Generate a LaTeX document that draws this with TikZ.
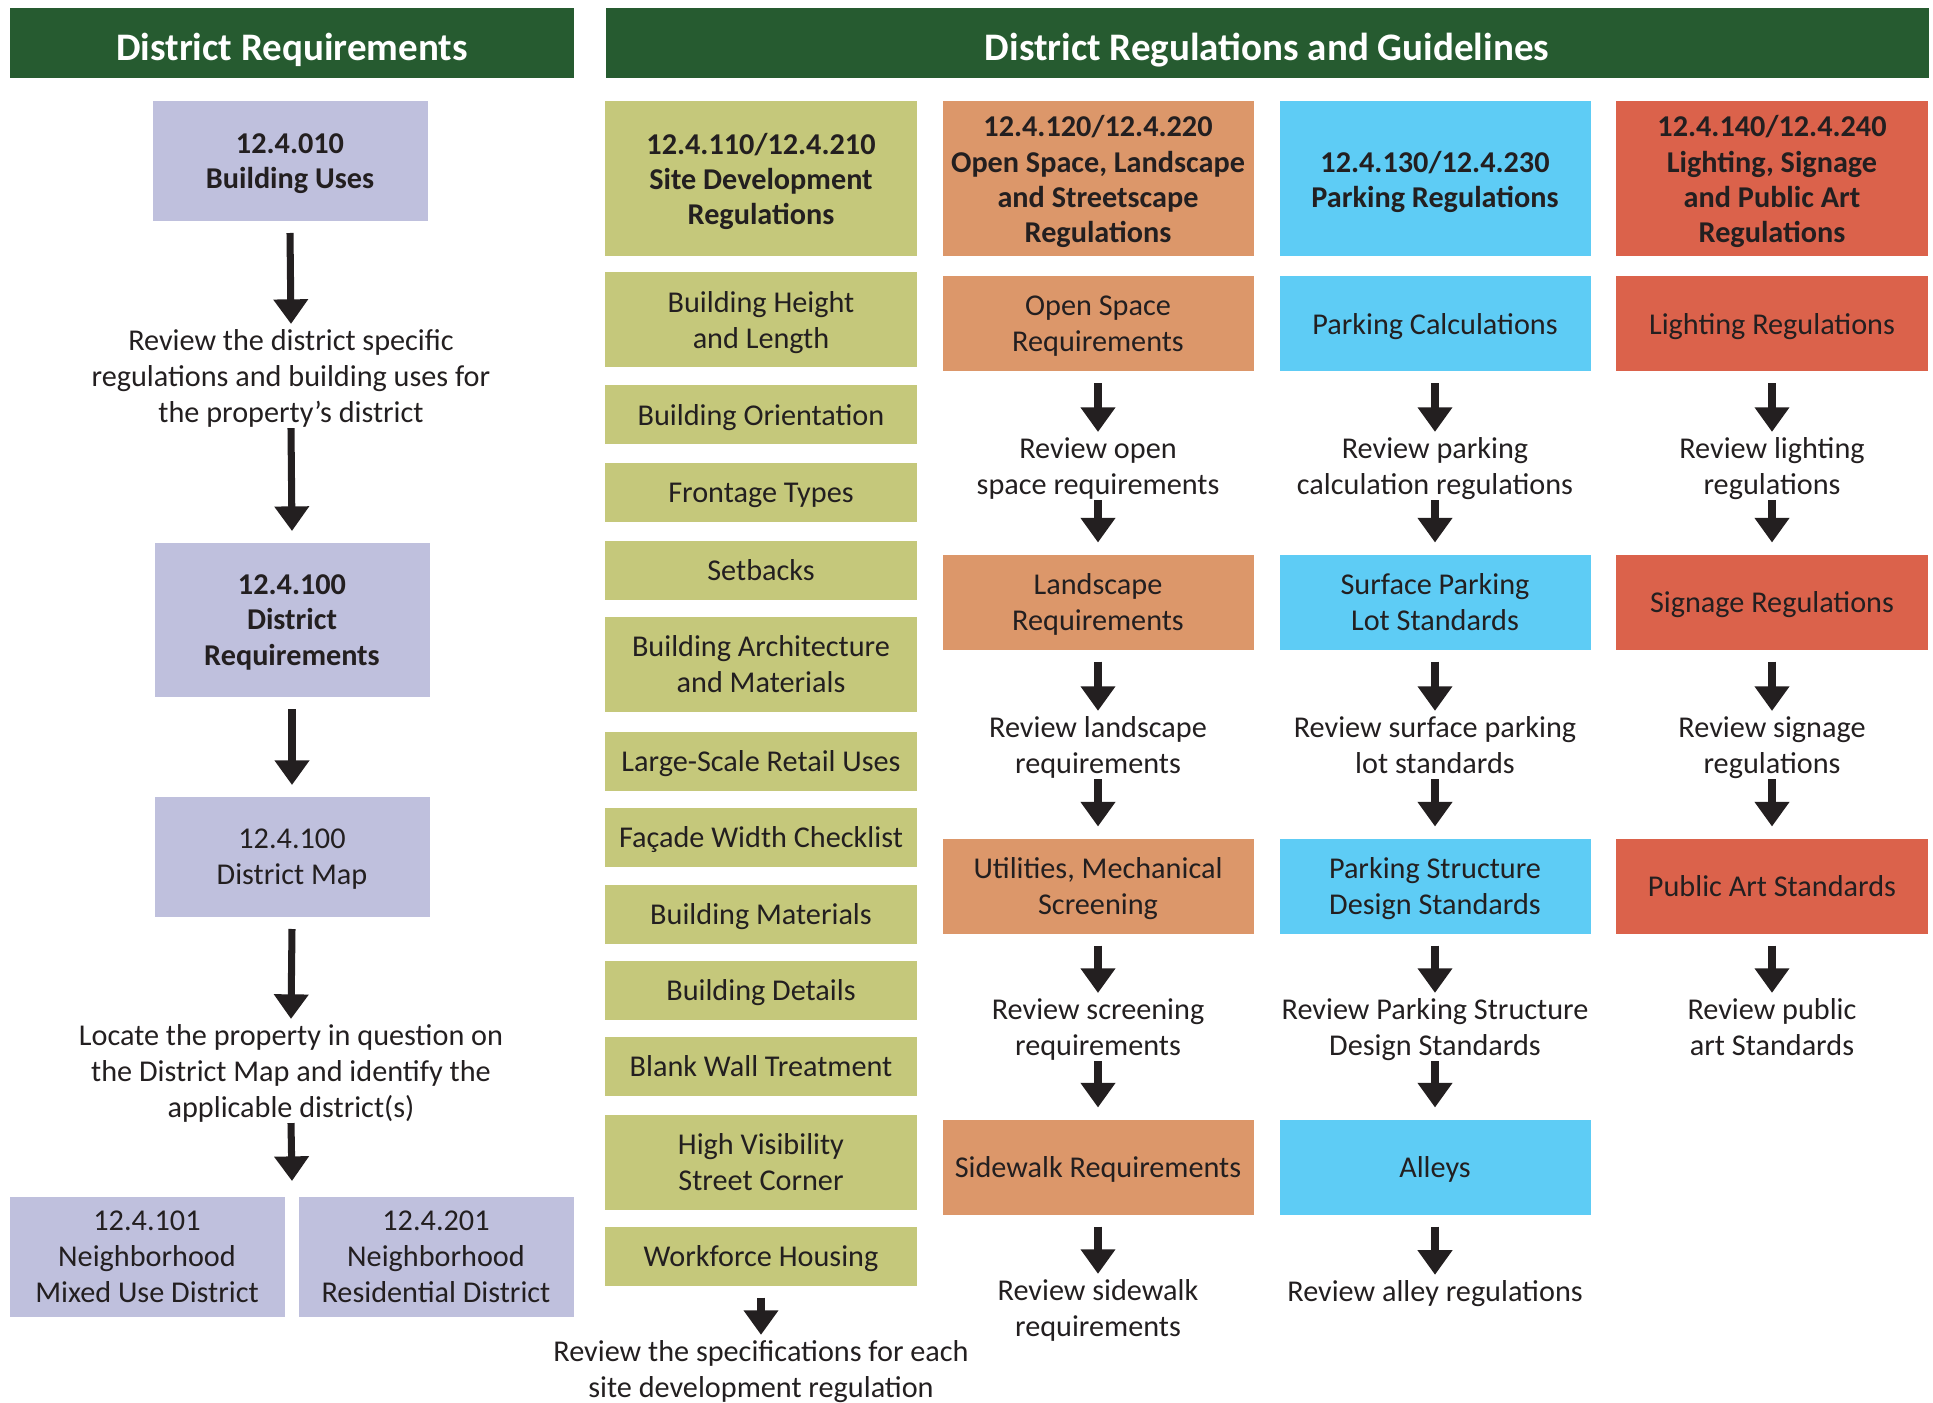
\documentclass[tikz,border=0pt]{standalone}
\usepackage{fontspec}
\setmainfont{Carlito}
\usetikzlibrary{arrows.meta}
\definecolor{verde}{HTML}{265B30}
\definecolor{lila}{HTML}{BFC0DD}
\definecolor{oliva}{HTML}{C5C87B}
\definecolor{naranja}{HTML}{DC976A}
\definecolor{celeste}{HTML}{5ECCF5}
\definecolor{rojo}{HTML}{DB624B}
\definecolor{tinta}{HTML}{231F20}
\begin{document}
\begin{tikzpicture}[
      titulo/.style={fill=verde, text=white, inner sep=0pt, minimum height=0.70cm,
                     text height=10pt, text depth=0pt,
                     font=\fontsize{11.1}{13}\selectfont\bfseries},
      caja/.style={align=center, text=tinta, inner sep=1pt, outer sep=0.12cm, text depth=0pt,
                   minimum height=0.59cm, font=\fontsize{8.6}{10.2}\selectfont},
      negrita/.style={font=\fontsize{8.6}{10}\selectfont\bfseries},
      cajalila/.style={caja, fill=lila, minimum width=2.75cm, minimum height=1.20cm},
      cajaoliva/.style={caja, fill=oliva, minimum width=3.12cm},
      cajanaranja/.style={caja, fill=naranja, minimum width=3.11cm, minimum height=0.95cm},
      cajaceleste/.style={caja, fill=celeste, minimum width=3.11cm, minimum height=0.95cm},
      cajaroja/.style={caja, fill=rojo, minimum width=3.12cm, minimum height=0.95cm},
      texto/.style={align=center, text=tinta, inner sep=0.05cm, text depth=0pt,
                    font=\fontsize{8.6}{10.2}\selectfont},
      flecha/.style={-{Triangle[width=9.5pt,length=7pt]}, line width=2pt, tinta}
    ]
    \useasboundingbox (0,0) rectangle (19.33,-14.03);

    \node[titulo, minimum width=5.63cm] (tizq) at (2.92,-0.43) {District Requirements};
    \node[titulo, minimum width=13.23cm] (tder) at (12.67,-0.43) {District Regulations and Guidelines};

    \node[cajalila, negrita] (usos) at (2.90,-1.61) {12.4.010\\ Building Uses};
    \node[texto] (rev1) at (2.91,-3.76)
      {Review the district specific\\ regulations and building uses for\\ the property’s district};
    \node[cajalila, negrita, minimum height=1.54cm] (req) at (2.92,-6.20) {12.4.100\\ District\\ Requirements};
    \node[cajalila] (mapa) at (2.92,-8.57) {12.4.100\\ District Map};
    \node[texto] (rev2) at (2.91,-10.71)
      {Locate the property in question on\\ the District Map and identify the\\ applicable district(s)};
    \coordinate (dist) at (2.92,-11.81);
    \node[cajalila] (nmu) at (1.47,-12.57) {12.4.101\\ Neighborhood\\ Mixed Use District};
    \node[cajalila] (nrd) at (4.36,-12.57) {12.4.201\\ Neighborhood\\ Residential District};

    \draw[flecha] (usos.south) -- (rev1.north);
    \draw[flecha] (rev1.south) -- (req.north);
    \draw[flecha] (req.south) -- (mapa.north);
    \draw[flecha] (mapa.south) -- (rev2.north);
    \draw[flecha] (rev2.south) -- (dist);

    \node[cajaoliva, negrita, minimum height=1.55cm] (sitio) at (7.61,-1.79)
      {12.4.110/12.4.210\\ Site Development\\ Regulations};
    \node[cajaoliva, minimum height=0.95cm] (altura) at (7.61,-3.20) {Building Height\\ and Length};
    \node[cajaoliva] (orient) at (7.61,-4.15) {Building Orientation};
    \node[cajaoliva] (frente) at (7.61,-4.93) {Frontage Types};
    \node[cajaoliva] (retiros) at (7.61,-5.70) {Setbacks};
    \node[cajaoliva, minimum height=0.95cm] (arq) at (7.61,-6.64) {Building Architecture\\ and Materials};
    \node[cajaoliva] (retail) at (7.61,-7.61) {Large-Scale Retail Uses};
    \node[cajaoliva] (fachada) at (7.61,-8.37) {Façade Width Checklist};
    \node[cajaoliva] (mat) at (7.61,-9.14) {Building Materials};
    \node[cajaoliva] (detalles) at (7.61,-9.90) {Building Details};
    \node[cajaoliva] (muro) at (7.61,-10.66) {Blank Wall Treatment};
    \node[cajaoliva, minimum height=0.95cm] (esquina) at (7.61,-11.62) {High Visibility\\ Street Corner};
    \node[cajaoliva] (vivienda) at (7.61,-12.56) {Workforce Housing};
    \node[texto] (rev3) at (7.61,-13.69) {Review the specifications for each\\ site development regulation};
    \draw[flecha] (vivienda.south) -- (rev3.north);

    \node[cajanaranja, negrita, minimum height=1.55cm] (c2h) at (10.98,-1.79)
      {12.4.120/12.4.220\\ Open Space, Landscape\\ and Streetscape\\ Regulations};
    \node[cajanaranja] (espacio) at (10.98,-3.24) {Open Space\\ Requirements};
    \node[texto] (revA2) at (10.98,-4.66) {Review open\\ space requirements};
    \node[cajanaranja] (paisaje) at (10.98,-6.02) {Landscape\\ Requirements};
    \node[texto] (revB2) at (10.98,-7.45) {Review landscape\\ requirements};
    \node[cajanaranja] (servicios) at (10.98,-8.86) {Utilities, Mechanical\\ Screening};
    \node[texto] (revC2) at (10.98,-10.27) {Review screening\\ requirements};
    \node[cajanaranja] (aceras) at (10.98,-11.67) {Sidewalk Requirements};
    \node[texto] (revD2) at (10.98,-13.08) {Review sidewalk\\ requirements};
    \draw[flecha] (espacio.south) -- (revA2.north);
    \draw[flecha] (revA2.south) -- (paisaje.north);
    \draw[flecha] (paisaje.south) -- (revB2.north);
    \draw[flecha] (revB2.south) -- (servicios.north);
    \draw[flecha] (servicios.south) -- (revC2.north);
    \draw[flecha] (revC2.south) -- (aceras.north);
    \draw[flecha] (aceras.south) -- (revD2.north);

    \node[cajaceleste, negrita, minimum height=1.55cm] (c3h) at (14.35,-1.79)
      {12.4.130/12.4.230\\ Parking Regulations};
    \node[cajaceleste] (calculo) at (14.35,-3.24) {Parking Calculations};
    \node[texto] (revA3) at (14.35,-4.66) {Review parking\\ calculation regulations};
    \node[cajaceleste] (superficie) at (14.35,-6.02) {Surface Parking\\ Lot Standards};
    \node[texto] (revB3) at (14.35,-7.45) {Review surface parking\\ lot standards};
    \node[cajaceleste] (estructura) at (14.35,-8.86) {Parking Structure\\ Design Standards};
    \node[texto] (revC3) at (14.35,-10.27) {Review Parking Structure\\ Design Standards};
    \node[cajaceleste] (callejones) at (14.35,-11.67) {Alleys};
    \node[texto] (revD3) at (14.35,-12.91) {Review alley regulations};
    \draw[flecha] (calculo.south) -- (revA3.north);
    \draw[flecha] (revA3.south) -- (superficie.north);
    \draw[flecha] (superficie.south) -- (revB3.north);
    \draw[flecha] (revB3.south) -- (estructura.north);
    \draw[flecha] (estructura.south) -- (revC3.north);
    \draw[flecha] (revC3.south) -- (callejones.north);
    \draw[flecha] (callejones.south) -- (revD3.north);

    \node[cajaroja, negrita, minimum height=1.55cm] (c4h) at (17.72,-1.79)
      {12.4.140/12.4.240\\ Lighting, Signage\\ and Public Art\\ Regulations};
    \node[cajaroja] (luz) at (17.72,-3.24) {Lighting Regulations};
    \node[texto] (revA4) at (17.72,-4.66) {Review lighting\\ regulations};
    \node[cajaroja] (senal) at (17.72,-6.02) {Signage Regulations};
    \node[texto] (revB4) at (17.72,-7.45) {Review signage\\ regulations};
    \node[cajaroja] (arte) at (17.72,-8.86) {Public Art Standards};
    \node[texto] (revC4) at (17.72,-10.27) {Review public\\ art Standards};
    \draw[flecha] (luz.south) -- (revA4.north);
    \draw[flecha] (revA4.south) -- (senal.north);
    \draw[flecha] (senal.south) -- (revB4.north);
    \draw[flecha] (revB4.south) -- (arte.north);
    \draw[flecha] (arte.south) -- (revC4.north);
  \end{tikzpicture}
\end{document}
